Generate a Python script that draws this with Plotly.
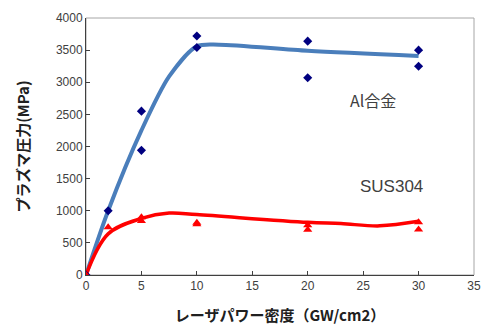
import plotly.graph_objects as go

# Data points (markers)
al_x = [0, 2, 5, 5, 10, 10, 20, 20, 30, 30]
al_y = [0, 1000, 2550, 1940, 3720, 3540, 3640, 3070, 3500, 3250]
sus_x = [0, 2, 5, 5, 10, 10, 20, 20, 30, 30]
sus_y = [0, 745, 900, 840, 815, 790, 775, 705, 820, 710]

# Smoothed trend lines
al_line_x = [0, 2, 5, 7.5, 10, 12, 20, 30]
al_line_y = [0, 1000, 2250, 3090, 3560, 3585, 3490, 3410]
sus_line_x = [0, 2, 5, 7.5, 10, 20, 23, 26.5, 30]
sus_line_y = [0, 640, 880, 965, 940, 820, 800, 765, 835]

x_ticks = [0, 5, 10, 15, 20, 25, 30, 35]
y_ticks = [0, 500, 1000, 1500, 2000, 2500, 3000, 3500, 4000]

fig = go.Figure()
fig.add_trace(go.Scatter(x=al_line_x, y=al_line_y, mode="lines",
                         line=dict(color="#4A7EBB", width=4, shape="spline", smoothing=0.8),
                         hoverinfo="skip"))
fig.add_trace(go.Scatter(x=sus_line_x, y=sus_line_y, mode="lines",
                         line=dict(color="#FF0000", width=3.5, shape="spline", smoothing=1.0),
                         hoverinfo="skip"))
fig.add_trace(go.Scatter(x=al_x, y=al_y, mode="markers",
                         marker=dict(symbol="diamond", color="#000080", size=7)))
fig.add_trace(go.Scatter(x=sus_x, y=sus_y, mode="markers",
                         marker=dict(symbol="triangle-up", color="#FF0000", size=8)))

tick_font = dict(family="Liberation Sans, Arial, sans-serif", size=12, color="#404040")
title_font = dict(family="Noto Sans CJK JP, sans-serif", size=15, color="#202020")

fig.update_layout(
    width=488, height=330,
    margin=dict(l=86, r=7, t=18, b=55),
    paper_bgcolor="white", plot_bgcolor="white",
    showlegend=False,
    xaxis=dict(range=[0, 35], tickvals=x_ticks, ticks="inside", ticklen=4,
               tickcolor="#404040", showgrid=False, zeroline=False,
               showline=True, linecolor="#404040", linewidth=1,
               tickfont=tick_font,
               title=dict(text="<b>レーザパワー密度（GW/cm2）</b>", font=title_font, standoff=18)),
    yaxis=dict(range=[0, 4000], tickvals=y_ticks, ticks="inside", ticklen=4,
               tickcolor="#404040", showgrid=False, zeroline=False,
               showline=True, linecolor="#404040", linewidth=1,
               tickfont=tick_font,
               title=dict(text="<b>プラズマ圧力(MPa)</b>", font=title_font, standoff=22)),
    shapes=[dict(type="rect", xref="paper", yref="paper", x0=0, y0=0, x1=1, y1=1,
                 line=dict(color="#A6A6A6", width=1), layer="below")],
    annotations=[
        dict(x=25.9, y=2720, text="Al合金", showarrow=False,
             font=dict(family="Noto Sans CJK JP, sans-serif", size=16, color="#404040")),
        dict(x=27.6, y=1380, text="SUS304", showarrow=False,
             font=dict(family="Liberation Sans, Arial, sans-serif", size=17, color="#404040")),
    ],
)

fig.write_html("out.html")
